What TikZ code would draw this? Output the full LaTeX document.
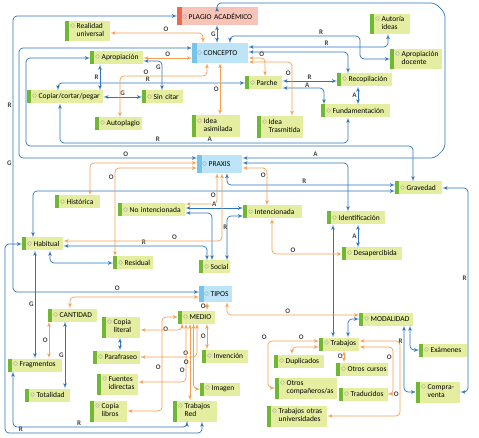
\documentclass[tikz,border=0pt]{standalone}
\usepackage{fontspec}
\setmainfont{Carlito}
\usetikzlibrary{arrows, positioning}

\definecolor{lineblue}{RGB}{46,117,190}
\definecolor{lineorange}{RGB}{245,160,80}
\definecolor{boxgreen}{RGB}{228,237,160}
\definecolor{bargreen}{RGB}{112,183,52}
\definecolor{boxblue}{RGB}{190,228,248}
\definecolor{barblue}{RGB}{118,196,236}
\definecolor{boxpink}{RGB}{248,196,184}
\definecolor{barred}{RGB}{236,104,80}

\newcommand{\mk}{\hspace*{5pt}\textcolor{black!40}{\fontsize{10}{10}\selectfont$\circ$}\hspace{1.5pt}}
\newcommand{\twol}[2]{\begin{tabular}[t]{@{}l@{}}#1\\#2\end{tabular}}

\begin{document}
\begin{tikzpicture}[
    x=1pt, y=-1pt,
    box/.style={rectangle, fill=boxgreen, anchor=west, inner xsep=0pt, inner ysep=1.5pt, minimum height=13pt, align=left, font=\fontsize{7.5}{8}\selectfont, text=black,
        path picture={\fill[bargreen] (path picture bounding box.north west) rectangle ([xshift=4pt]path picture bounding box.south west);}},
    mainbox/.style={box, fill=boxblue, minimum height=18pt,
        path picture={\fill[barblue] (path picture bounding box.north west) rectangle ([xshift=5pt]path picture bounding box.south west);}},
    plagiobox/.style={mainbox, fill=boxpink,
        path picture={\fill[barred] (path picture bounding box.north west) rectangle ([xshift=5pt]path picture bounding box.south west);}},
    bline/.style={draw=lineblue, line width=0.7pt, rounded corners=4pt, latex'-latex'},
    oline/.style={draw=lineorange, line width=0.7pt, rounded corners=4pt, latex'-latex'},
    lab/.style={font=\fontsize{7}{7}\selectfont\bfseries, text=black!75, inner sep=1pt}
]

    \fill [white] (0,0) rectangle (479,438);
    \useasboundingbox (0,0) rectangle (479,438);

    % Nodos principales
    \node [plagiobox, text width=81pt] (plagio) at (177,16) {\mk PLAGIO ACADÉMICO};
    \node [mainbox, text width=56pt, minimum height=20pt] (concepto) at (192,53) {\mk CONCEPTO};
    \node [mainbox, text width=45pt] (praxis) at (197,164) {\mk PRAXIS};
    \node [mainbox, text width=33pt, minimum height=16pt] (tipos) at (199,294) {\mk TIPOS};

    % Concepto
    \node [box, text width=45pt, minimum height=20pt] (realidad) at (65,31) {\mk\twol{Realidad}{universal}};
    \node [box, text width=40pt, minimum height=20pt] (autoria) at (370,24) {\mk\twol{Autoría}{ideas}};
    \node [box, text width=52pt, minimum height=20pt] (apdocente) at (390,59) {\mk\twol{Apropiación}{docente}};
    \node [box, text width=53pt] (apropiacion) at (90,58) {\mk Apropiación};
    \node [box, text width=76pt] (copiar) at (27,97) {\mk Copiar/cortar/pegar};
    \node [box, text width=41pt] (sincitar) at (142,97) {\mk Sin citar};
    \node [box, text width=37pt] (parche) at (245,83) {\mk Parche};
    \node [box, text width=55pt] (recopilacion) at (337,80) {\mk Recopilación};
    \node [box, text width=69pt] (fundamentacion) at (321,111) {\mk Fundamentación};
    \node [box, text width=47pt] (autoplagio) at (95,124) {\mk Autoplagio};
    \node [box, text width=48pt, minimum height=22pt] (asimilada) at (192,126) {\mk\twol{Idea}{asimilada}};
    \node [box, text width=46pt, minimum height=22pt] (trasmitida) at (257,127) {\mk\twol{Idea}{Trasmitida}};

    % Praxis
    \node [box, text width=47pt] (gravedad) at (395,188) {\mk Gravedad};
    \node [box, text width=45pt] (historica) at (55,202) {\mk Histórica};
    \node [box, text width=67pt] (nointenc) at (118,210) {\mk No intencionada};
    \node [box, text width=59pt] (intencionada) at (243,212) {\mk Intencionada};
    \node [box, text width=58pt] (identificacion) at (327,218) {\mk Identificación};
    \node [box, text width=41pt] (habitual) at (22,244) {\mk Habitual};
    \node [box, text width=60pt] (desapercibida) at (342,254) {\mk Desapercibida};
    \node [box, text width=40pt] (residual) at (113,263) {\mk Residual};
    \node [box, text width=31pt] (social) at (199,267) {\mk Social};

    % Tipos
    \node [box, text width=49pt] (cantidad) at (48,315) {\mk CANTIDAD};
    \node [box, text width=37pt] (medio) at (178,317) {\mk MEDIO};
    \node [box, text width=54pt] (modalidad) at (359,319) {\mk MODALIDAD};
    \node [box, text width=38pt, minimum height=21pt] (literal) at (102,327) {\mk\twol{Copia}{literal}};
    \node [box, text width=47pt] (parafraseo) at (93,357) {\mk Parafraseo};
    \node [box, text width=46pt] (invencion) at (202,356) {\mk Invención};
    \node [box, text width=40pt] (trabajos) at (319,344) {\mk Trabajos};
    \node [box, text width=54pt] (fragmentos) at (8,365) {\mk Fragmentos};
    \node [box, text width=50pt] (duplicados) at (274,361) {\mk Duplicados};
    \node [box, text width=52pt] (otroscursos) at (336,369) {\mk Otros cursos};
    \node [box, text width=48pt] (examenes) at (419,350) {\mk Exámenes};
    \node [box, text width=41pt, minimum height=21pt] (fuentes) at (97,384) {\mk\twol{Fuentes}{idirectas}};
    \node [box, text width=40pt] (imagen) at (200,389) {\mk Imagen};
    \node [box, text width=62pt, minimum height=21pt] (companeros) at (275,388) {\mk\twol{Otros}{compañeros/as}};
    \node [box, text width=49pt] (traducidos) at (339,394) {\mk Traducidos};
    \node [box, text width=44pt, minimum height=21pt] (compraventa) at (416,392) {\mk\twol{Compra-}{venta}};
    \node [box, text width=45pt] (totalidad) at (25,395) {\mk Totalidad};
    \node [box, text width=37pt, minimum height=21pt] (libros) at (90,411) {\mk\twol{Copia}{libros}};
    \node [box, text width=44pt, minimum height=21pt] (red) at (173,411) {\mk\twol{Trabajos}{Red}};
    \node [box, text width=60pt, minimum height=21pt] (otrasuniv) at (267,416) {\mk\twol{Trabajos otras}{universidades}};

    % Conexiones del concepto
    \draw [bline] (plagio.west) -| (13,105) node [lab, left] {R} -- (13,163) node [lab, left] {G} |- ([yshift=2pt]tipos.west) node [lab, pos=0.78, above] {O};
    \draw [bline] ([yshift=5pt]concepto.west) -| (19,100) |- ([yshift=6pt]praxis.west) node [lab, pos=0.8, above] {O};
    \draw [bline] (apropiacion.west) -| (26,146) -| ([xshift=18pt]gravedad.north west);
    \draw [bline] ([xshift=40pt]plagio.north west) |- (435,3) -- (445,13) -- (445,148) -- (435,158) -- ([yshift=6pt]praxis.east) node [lab, pos=0.62, above] {A};
    \draw [bline] ([xshift=40pt]plagio.south west) -- ([xshift=25pt]concepto.north west) node [lab, midway, left] {G};
    \draw [bline] ([xshift=38pt]concepto.north west) |- (360,36) node [lab, pos=0.85, above] {R} |- (apdocente.west);
    \draw [bline] ([xshift=18pt]autoria.south west) |- ([yshift=6pt]concepto.east) node [lab, pos=0.72, above] {R};
    \draw [bline] ([yshift=1pt]concepto.east) -| ([xshift=11pt]recopilacion.north west);
    \draw [bline] ([xshift=31pt]copiar.north west) |- (parche.west) node [lab, pos=0.74, above] {R};
    \draw [bline] ([xshift=10pt]apropiacion.south west) -- ([xshift=73pt]copiar.north west) node [lab, midway, left] {R};
    \draw [bline] ([yshift=-3pt]apropiacion.east) -| ([xshift=20pt]sincitar.north west) node [lab, pos=0.6, left] {G};
    \draw [bline] (copiar.east) -- (copiar.east -| sincitar.west) node [lab, midway, above] {G};
    \draw [bline] ([yshift=2pt]parche.east) -- ([yshift=-1pt]recopilacion.west) node [lab, midway, above] {R};
    \draw [bline] ([yshift=-5pt]parche.east) -| ([xshift=3pt]fundamentacion.north west) node [lab, pos=0.3, above, inner sep=0.3pt] {A};
    \draw [bline] ([xshift=21pt]recopilacion.south west) -- ([xshift=37pt]fundamentacion.north west) node [lab, midway, left] {A};
    \draw [bline] ([xshift=33pt]copiar.south west) |- (348,143) node [lab, pos=0.67, above] {R} node [lab, pos=0.76, above] {A} -- ([xshift=27pt]fundamentacion.south west);
    \draw [oline] ([yshift=-2pt]realidad.east) -| ([xshift=11pt]concepto.north west) node [lab, pos=0.3, above] {O};
    \draw [oline] (apropiacion.east) -- (apropiacion.east -| concepto.west) node [lab, midway, above] {O};
    \draw [oline] ([xshift=25pt]autoplagio.north west) |- (207,76) node [lab, pos=0.65, above] {O} -- ([xshift=15pt]concepto.south west);
    \draw [oline] ([xshift=28pt]asimilada.north west) -- ([xshift=28pt]concepto.south west) node [lab, midway, left] {O};
    \draw [oline] ([yshift=-5pt]concepto.east) -| ([xshift=20pt]parche.north west) node [lab, pos=0.4, above] {O};
    \draw [oline] ([yshift=-9pt]concepto.east) -| ([xshift=35pt]trasmitida.north west) node [lab, pos=0.6, left] {O};

    % Conexiones de la praxis
    \draw [bline] ([yshift=1pt]praxis.east) -| ([xshift=21pt]identificacion.north west);
    \draw [bline] ([xshift=30pt]praxis.south west) |- ([yshift=3pt]gravedad.west) node [lab, pos=0.73, above] {R};
    \draw [bline] ([xshift=11pt]habitual.north west) |- ([yshift=-3pt]gravedad.west);
    \draw [bline] ([yshift=2pt]nointenc.east) -- ([yshift=4pt]intencionada.west) node [lab, midway, above] {A};
    \draw [bline] ([yshift=-3pt]nointenc.east) -| ([xshift=13pt]social.north west);
    \draw [bline] ([yshift=-4pt]intencionada.west) -| ([xshift=28pt]social.north west);
    \draw [bline] ([yshift=-2pt]habitual.east) -| ([xshift=8pt]social.north west) node [lab, pos=0.28, above] {R};
    \draw [bline] ([xshift=28pt]habitual.south west) |- (residual.west);
    \draw [bline] ([xshift=13pt]habitual.south west) -- ([xshift=27pt]fragmentos.north west) node [lab, midway, left] {G};
    \draw [bline] ([xshift=31pt]identificacion.south west) -- ([xshift=16pt]desapercibida.north west) node [lab, midway, left] {A};
    \draw [bline] ([xshift=6pt]identificacion.south west) -- ([xshift=14pt]trabajos.north west);
    \draw [bline] (gravedad.east) -| (468,278) node [lab, left] {R} |- (compraventa.east);
    \draw [oline] ([xshift=35pt]historica.north west) |- ([yshift=1pt]praxis.west);
    \draw [oline] ([yshift=-4pt]praxis.west) -| ([xshift=2pt]residual.north west) node [lab, pos=0.55, left] {O};
    \draw [oline] ([xshift=20pt]praxis.south west) |- ([yshift=6pt]nointenc.east) node [lab, pos=0.35, left] {O};
    \draw [oline] ([xshift=25pt]praxis.south west) |- ([yshift=3pt]habitual.east) node [lab, pos=0.4, right] {R} node [lab, pos=0.65, above] {O};
    \draw [oline] ([yshift=-4pt]praxis.east) -| ([xshift=24pt]intencionada.north west) node [lab, pos=0.6, left] {O};
    \draw [oline] ([xshift=29pt]intencionada.south west) |- (desapercibida.west) node [lab, pos=0.65, above] {O};

    % Conexiones de los tipos
    \draw [bline] (habitual.west) -| (5,433) -| ([xshift=29pt]red.south west) node [lab, pos=0.04, above] {R};
    \draw [bline] ([xshift=5pt]fragmentos.south west) |- (187,427) node [lab, pos=0.69, above] {R} -- ([xshift=14pt]red.south west);
    \draw [bline] ([xshift=17pt]cantidad.south west) -- ([xshift=40pt]totalidad.north west) node [lab, midway, left] {G};
    \draw [bline] ([xshift=18pt]literal.south west) -- ([xshift=27pt]parafraseo.north west);
    \draw [bline] ([xshift=29pt]trabajos.north west) |- (modalidad.west);
    \draw [bline] ([xshift=51pt]modalidad.south west) |- (examenes.west);
    \draw [bline] ([xshift=45pt]modalidad.south west) |- (compraventa.west) node [lab, pos=0.12, left] {R};
    \draw [oline] ([xshift=22pt]cantidad.north west) |- ([yshift=-3pt]tipos.west);
    \draw [oline] ([xshift=1pt]cantidad.south west) -- ([xshift=41pt]fragmentos.north west) node [lab, midway, left] {O};
    \draw [oline] ([xshift=8pt]tipos.south west) -- ([xshift=29pt]medio.north west) node [lab, midway, left] {O};
    \draw [oline] ([xshift=28pt]tipos.south west) |- ([yshift=4pt]modalidad.west) node [lab, pos=0.73, above] {O};
    \draw [oline] (medio.west) -| (162,367) node [lab, pos=0.62, right] {O} node [lab, left] {O} |- (libros.east);
    \draw [oline] ([xshift=4pt]medio.south west) |- ([yshift=-3pt]literal.east);
    \draw [oline] ([xshift=19pt]medio.south west) |- (parafraseo.east) node [lab, pos=0.6, above] {O};
    \draw [oline] ([xshift=8pt]medio.south west) |- ([yshift=2pt]fuentes.east) node [lab, pos=0.4, left] {O};
    \draw [oline] ([xshift=12pt]medio.south west) -- ([xshift=17pt]red.north west) node [lab, pos=0.5, left] {O};
    \draw [oline] ([xshift=15.5pt]medio.south west) |- (imagen.west);
    \draw [oline] ([xshift=29pt]medio.south west) -- ([xshift=5pt]invencion.north west) node [lab, midway, left] {O};
    \draw [oline] ([yshift=3pt]trabajos.west) -- (268,341) node [lab, pos=0.35, above] {O} node [lab, above left] {O} |- (companeros.west);
    \draw [oline] ([yshift=-3pt]trabajos.west) -| ([xshift=18pt]duplicados.north west);
    \draw [oline] ([xshift=8pt]otroscursos.north west) -- ([xshift=25pt]trabajos.south west) node [lab, midway, left] {O};
    \draw [oline] ([yshift=3pt]trabajos.east) -| (400,380) |- (otrasuniv.east) node [lab, pos=0.2, left] {O};
    \draw [oline] ([yshift=-3pt]trabajos.east) -| (393,357) node [lab, left] {O} |- (traducidos.east);

\end{tikzpicture}
\end{document}
